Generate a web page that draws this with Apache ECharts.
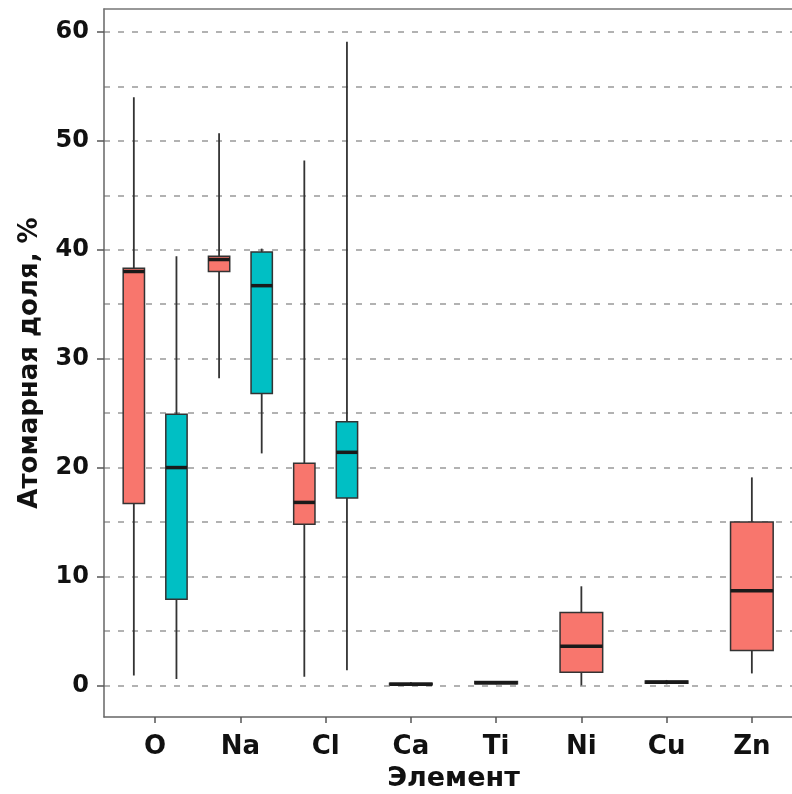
<!DOCTYPE html>
<html>
<head>
<meta charset="utf-8">
<script src="https://cdn.jsdelivr.net/npm/echarts@6/dist/echarts.min.js"></script>
<style>
  html, body { margin: 0; padding: 0; background: #fff; }
  #chart { width: 792px; height: 794px; }
</style>
</head>
<body>
<div id="chart"></div>
<script>
const categories = ['O', 'Na', 'Cl', 'Ca', 'Ti', 'Ni', 'Cu', 'Zn'];
const yTicks = [0, 10, 20, 30, 40, 50, 60];
const yGrid = [0, 5, 10, 15, 20, 25, 30, 35, 40, 45, 50, 55, 60];

// red group: min, Q1, median, Q3, max
const redMin = [0.9, 28.2, 0.8, 0.0, 0.1, 0.0, 0.1, 1.1];
const redQ1  = [16.7, 38.0, 14.8, 0.05, 0.15, 1.2, 0.2, 3.2];
const redMed = [38.0, 39.1, 16.8, 0.1, 0.25, 3.6, 0.3, 8.7];
const redQ3  = [38.3, 39.4, 20.4, 0.2, 0.35, 6.7, 0.4, 15.0];
const redMax = [54.0, 50.7, 48.2, 0.3, 0.4, 9.1, 0.5, 19.1];

// teal group (only O, Na, Cl)
const tealMin = [0.6, 21.3, 1.4, null, null, null, null, null];
const tealQ1  = [7.9, 26.8, 17.2, null, null, null, null, null];
const tealMed = [20.0, 36.7, 21.4, null, null, null, null, null];
const tealQ3  = [24.9, 39.8, 24.2, null, null, null, null, null];
const tealMax = [39.4, 40.1, 59.1, null, null, null, null, null];

const RED = '#F8766D';
const TEAL = '#00BFC4';
const FONT = 'DejaVu Sans';

function buildData(mn, q1, md, q3, mx) {
  const out = [];
  categories.forEach((c, i) => {
    if (md[i] == null) return;
    out.push([i + 1, mn[i], q1[i], md[i], q3[i], mx[i]]);
  });
  return out;
}

function makeRender(color, side) {
  return function (params, api) {
    const i = api.value(0);
    const dodge = tealMed[i - 1] != null;
    const cx = i + (dodge ? side * 0.25 : 0);
    const hw = dodge ? 0.125 : 0.25;
    const pMin = api.coord([cx, api.value(1)]);
    const pQ1 = api.coord([cx, api.value(2)]);
    const pMed = api.coord([cx, api.value(3)]);
    const pQ3 = api.coord([cx, api.value(4)]);
    const pMax = api.coord([cx, api.value(5)]);
    const left = api.coord([cx - hw, 0])[0];
    const right = api.coord([cx + hw, 0])[0];
    return {
      type: 'group',
      children: [
        { type: 'line', shape: { x1: pMin[0], y1: pMin[1], x2: pMax[0], y2: pMax[1] },
          style: { stroke: '#333', lineWidth: 1.8 } },
        { type: 'rect', shape: { x: left, y: pQ3[1], width: right - left, height: pQ1[1] - pQ3[1] },
          style: { fill: color, stroke: '#333', lineWidth: 1.5 } },
        { type: 'line', shape: { x1: left, y1: pMed[1], x2: right, y2: pMed[1] },
          style: { stroke: '#1a1a1a', lineWidth: 3.5 } }
      ]
    };
  };
}

const chart = echarts.init(document.getElementById('chart'), null, { renderer: 'canvas' });

const option = {
  animation: false,
  grid: { left: 104, top: 9, right: -11, bottom: 77, outerBoundsMode: 'none', containLabel: false },
  xAxis: [
    {
      type: 'value', min: 0.4, max: 8.6, position: 'bottom',
      name: 'Элемент', nameLocation: 'middle', nameGap: 48,
      nameTextStyle: { fontFamily: FONT, fontWeight: 'bold', fontSize: 27, color: '#111' },
      axisLine: { show: true, onZero: false, lineStyle: { color: '#666', width: 1.5 } },
      axisTick: { show: true, length: 6, customValues: [1, 2, 3, 4, 5, 6, 7, 8], lineStyle: { color: '#555', width: 1.5 } },
      axisLabel: {
        customValues: [1, 2, 3, 4, 5, 6, 7, 8], margin: 17,
        formatter: v => categories[Math.round(v) - 1] || '',
        fontFamily: FONT, fontWeight: 'bold', fontSize: 26, color: '#111'
      },
      splitLine: { show: false }
    },
    {
      type: 'value', min: 0.4, max: 8.6, position: 'top',
      axisLine: { show: true, onZero: false, lineStyle: { color: '#777', width: 1.5 } },
      axisTick: { show: false }, axisLabel: { show: false }, splitLine: { show: false }
    }
  ],
  yAxis: [
    {
      type: 'value', min: -2.9, max: 62.1,
      name: 'Атомарная доля, %', nameLocation: 'middle', nameGap: 61,
      nameTextStyle: { fontFamily: FONT, fontWeight: 'bold', fontSize: 26, color: '#111' },
      axisLine: { show: true, onZero: false, lineStyle: { color: '#666', width: 1.5 } },
      axisTick: { show: true, length: 7, customValues: yTicks, lineStyle: { color: '#555', width: 1.5 } },
      axisLabel: { customValues: yTicks, margin: 15, fontFamily: FONT, fontWeight: 'bold', fontSize: 24, color: '#111' },
      splitLine: { show: false }
    },
    {
      type: 'value', min: -2.9, max: 62.1, position: 'left',
      axisLine: { show: false }, axisLabel: { show: false },
      axisTick: { show: false, customValues: yGrid },
      splitLine: { show: true, lineStyle: { color: '#999', width: 1.6, type: [6, 8] } }
    }
  ],
  series: [
    {
      type: 'custom', name: 'red', xAxisIndex: 0, yAxisIndex: 0,
      renderItem: makeRender(RED, -1),
      encode: { x: 0, y: [1, 2, 3, 4, 5] },
      data: buildData(redMin, redQ1, redMed, redQ3, redMax),
      z: 5
    },
    {
      type: 'custom', name: 'teal', xAxisIndex: 0, yAxisIndex: 0,
      renderItem: makeRender(TEAL, 1),
      encode: { x: 0, y: [1, 2, 3, 4, 5] },
      data: buildData(tealMin, tealQ1, tealMed, tealQ3, tealMax),
      z: 5
    }
  ]
};

chart.setOption(option);
</script>
</body>
</html>
